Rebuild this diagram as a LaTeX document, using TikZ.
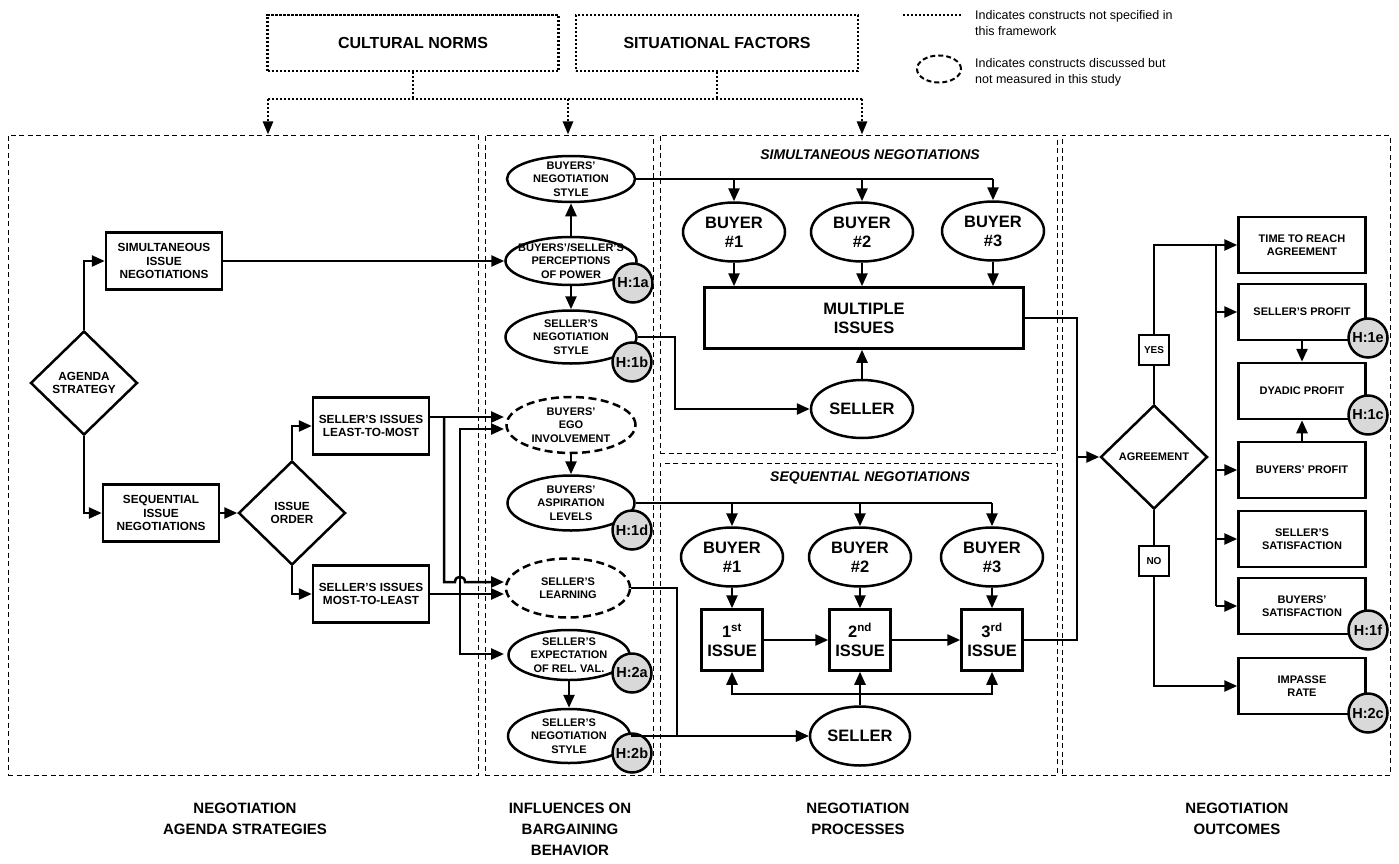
\documentclass[tikz,border=0pt]{standalone}
\usepackage{fontspec}
\setmainfont{Liberation Sans}
\usetikzlibrary{shapes.geometric,arrows.meta,calc}

\tikzset{
  wire/.style={line width=2.5pt},
  arr/.style={line width=2.5pt,-{Triangle[length=13pt,width=11pt]}},
  dotwire/.style={line width=2.4pt,dash pattern=on 2.2pt off 1.8pt},
  dotarr/.style={dotwire,-{Triangle[length=13pt,width=10pt]}},
  panel/.style={draw,line width=1pt,dash pattern=on 5pt off 3.5pt,rectangle,inner sep=0pt},
  factorbox/.style={draw,rectangle,dotwire,minimum height=56pt,font=\fontsize{16}{19}\selectfont\bfseries},
  stepbox/.style={draw,line width=2.5pt,rectangle,align=center,inner sep=1pt,minimum width=116pt,minimum height=57pt,font=\fontsize{11.8}{13.5}\selectfont\bfseries},
  outbox/.style={stepbox,minimum width=127pt,minimum height=56pt,font=\fontsize{11}{13.5}\selectfont\bfseries},
  issuebox/.style={stepbox,minimum width=61pt,minimum height=61pt,font=\fontsize{16.5}{19}\selectfont\bfseries},
  oval/.style={draw,line width=2.5pt,ellipse,align=center,inner xsep=-14pt,inner ysep=-8pt,font=\fontsize{11}{13.5}\selectfont\bfseries},
  dashoval/.style={oval,dash pattern=on 8pt off 4.5pt},
  bigoval/.style={oval,minimum width=102pt,minimum height=59pt,font=\fontsize{16.5}{19}\selectfont\bfseries},
  choice/.style={draw,line width=2.5pt,diamond,align=center,inner sep=0pt,minimum width=107pt,minimum height=104pt,font=\fontsize{11.8}{13.5}\selectfont\bfseries},
  hyp/.style={draw,line width=2.5pt,circle,fill=black!15,inner sep=0pt,minimum size=39pt,font=\fontsize{14.5}{14.5}\selectfont\bfseries},
  answer/.style={draw,line width=2.5pt,rectangle,inner sep=0pt,minimum size=30pt,font=\fontsize{10}{10}\selectfont\bfseries},
  subtitle/.style={font=\fontsize{14}{16}\selectfont\bfseries\itshape},
  labeltext/.style={align=center,anchor=north,inner sep=0pt,font=\fontsize{15}{21}\selectfont\bfseries},
  legendtext/.style={align=left,anchor=west,inner sep=0pt,font=\fontsize{12.5}{16}\selectfont},
}

\begin{document}
\begin{tikzpicture}[x=1pt,y=-1pt]
\useasboundingbox (0,0) rectangle (1399,864);

\node[factorbox,minimum width=291pt] (cult) at (413,43) {CULTURAL NORMS};
\node[factorbox,minimum width=282pt] (sit) at (717,43) {SITUATIONAL FACTORS};

\coordinate (legA) at (903,15);
\coordinate (legB) at (961,15);
\draw[dotwire] (legA) -- (legB);
\node[legendtext] (leg1) at (975,23) {Indicates constructs not specified in\\this framework};
\node[dashoval,line width=2pt,dash pattern=on 5pt off 3pt,minimum width=44pt,minimum height=27pt] (legoval) at (939,69) {};
\node[legendtext] (leg2) at (975,72) {Indicates constructs discussed but\\not measured in this study};

\node[panel,minimum width=470pt,minimum height=640pt] (pA) at (243,455) {};
\node[panel,minimum width=168pt,minimum height=640pt] (pB) at (569,455) {};
\node[panel,minimum width=397pt,minimum height=318pt] (pC1) at (858.5,294) {};
\node[panel,minimum width=397pt,minimum height=312pt] (pC2) at (858.5,619) {};
\node[panel,minimum width=328pt,minimum height=640pt] (pD) at (1226,455) {};

\coordinate (jL) at (268,99);
\coordinate (jM) at (568,99);
\coordinate (jR) at (862,99);
\draw[dotwire] (cult) -- (cult |- jL);
\draw[dotwire] (sit) -- (sit |- jL);
\draw[dotwire] (jL) -- (jR);
\draw[dotarr] (jL) -- (jL |- pA.north);
\draw[dotarr] (jM) -- (jM |- pB.north);
\draw[dotarr] (jR) -- (jR |- pC1.north);

\node[subtitle] (simtitle) at (870,155) {SIMULTANEOUS NEGOTIATIONS};
\node[subtitle] (seqtitle) at (870,478) {SEQUENTIAL NEGOTIATIONS};

\node[choice] (agenda) at (84,383) {AGENDA\\STRATEGY};
\node[stepbox] (simiss) at (164,261) {SIMULTANEOUS\\ISSUE\\NEGOTIATIONS};
\node[stepbox] (seqiss) at (161,513) {SEQUENTIAL\\ISSUE\\NEGOTIATIONS};
\node[choice] (order) at (292,513) {ISSUE\\ORDER};
\node[stepbox] (least) at (371,426) {SELLER'S ISSUES\\LEAST-TO-MOST};
\node[stepbox] (most) at (371,594) {SELLER'S ISSUES\\MOST-TO-LEAST};

\node[oval,minimum width=128pt,minimum height=46pt] (bstyle) at (571,179) {BUYERS'\\NEGOTIATION\\STYLE};
\node[oval,minimum width=131pt,minimum height=48pt] (power) at (571,261) {BUYERS'/SELLER'S\\PERCEPTIONS\\OF POWER};
\node[oval,minimum width=131pt,minimum height=53pt] (sstyle) at (571,337) {SELLER'S\\NEGOTIATION\\STYLE};
\node[dashoval,minimum width=129pt,minimum height=56pt] (ego) at (571,425) {BUYERS'\\EGO\\INVOLVEMENT};
\node[oval,minimum width=127pt,minimum height=55pt] (aspir) at (571,503) {BUYERS'\\ASPIRATION\\LEVELS};
\node[dashoval,minimum width=124pt,minimum height=59pt] (learn) at (568,588) {SELLER'S\\LEARNING};
\node[oval,minimum width=121pt,minimum height=50pt] (expect) at (569,655) {SELLER'S\\EXPECTATION\\OF REL. VAL.};
\node[oval,minimum width=122pt,minimum height=54pt] (sstyle2) at (569,736) {SELLER'S\\NEGOTIATION\\STYLE};

\node[hyp] (h1a) at (633,283) {H:1a};
\node[hyp] (h1b) at (632,362) {H:1b};
\node[hyp] (h1d) at (632,530) {H:1d};
\node[hyp] (h2a) at (632,673) {H:2a};
\node[hyp] (h2b) at (632,753) {H:2b};

\node[bigoval] (b1) at (734,232) {BUYER\\\#1};
\node[bigoval] (b2) at (862,232) {BUYER\\\#2};
\node[bigoval] (b3) at (993,231) {BUYER\\\#3};
\node[stepbox,minimum width=319pt,minimum height=61pt,font=\fontsize{16.5}{19}\selectfont\bfseries] (multi) at (864,318) {MULTIPLE\\ISSUES};
\node[bigoval,minimum height=58pt] (sel1) at (862,409) {SELLER};

\node[bigoval] (b4) at (732,557) {BUYER\\\#1};
\node[bigoval] (b5) at (860,557) {BUYER\\\#2};
\node[bigoval] (b6) at (992,557) {BUYER\\\#3};
\node[issuebox] (i1) at (732,640) {1\textsuperscript{st}\\ISSUE};
\node[issuebox] (i2) at (860,640) {2\textsuperscript{nd}\\ISSUE};
\node[issuebox] (i3) at (992,640) {3\textsuperscript{rd}\\ISSUE};
\node[bigoval,minimum width=100pt] (sel2) at (860,736) {SELLER};

\node[choice,font=\fontsize{11}{12}\selectfont\bfseries] (agree) at (1154,457) {AGREEMENT};
\node[answer] (yes) at (1154,350) {YES};
\node[answer] (no) at (1154,561) {NO};
\node[outbox] (time) at (1302,245) {TIME TO REACH\\AGREEMENT};
\node[outbox] (sprof) at (1302,312) {SELLER'S PROFIT};
\node[outbox] (dprof) at (1302,391) {DYADIC PROFIT};
\node[outbox] (bprof) at (1302,470) {BUYERS' PROFIT};
\node[outbox] (ssat) at (1302,539) {SELLER'S\\SATISFACTION};
\node[outbox] (bsat) at (1302,606) {BUYERS'\\SATISFACTION};
\node[outbox] (imp) at (1302,686) {IMPASSE\\RATE};
\node[hyp] (h1e) at (1368,338) {H:1e};
\node[hyp] (h1c) at (1368,415) {H:1c};
\node[hyp] (h1f) at (1368,630) {H:1f};
\node[hyp] (h2c) at (1368,713) {H:2c};

\node[labeltext] (capA) at (245,803) {NEGOTIATION\\AGENDA STRATEGIES};
\node[labeltext] (capB) at (570,803) {INFLUENCES ON\\BARGAINING\\BEHAVIOR};
\node[labeltext] (capC) at (858,803) {NEGOTIATION\\PROCESSES};
\node[labeltext] (capD) at (1237,803) {NEGOTIATION\\OUTCOMES};

\draw[arr] (agenda.north) |- (simiss);
\draw[arr] (agenda.south) |- (seqiss);
\draw[arr] (seqiss) -- (order);
\draw[arr] (order.north) |- (least);
\draw[arr] (order.south) |- (most);
\draw[arr] (simiss) -- (simiss -| power.west);

\coordinate (railA) at (444,0);
\coordinate (railB) at (460,0);
\coordinate (egoInA) at (504,417);
\coordinate (egoInB) at (504,429);
\coordinate (lrnInA) at (504,582);
\coordinate (lrnInB) at (504,594);
\coordinate (expIn) at (504,654);
\draw[arr] (least.east |- egoInA) -- (egoInA);
\draw[arr] (railA |- egoInA) -- (railA |- lrnInA) -- ($(railB |- lrnInA)+(-5,0)$) .. controls +(0,-7) and +(0,-7) .. ($(railB |- lrnInA)+(5,0)$) -- (lrnInA);
\draw[arr] (most.east |- lrnInB) -- (lrnInB);
\draw[arr] (railB |- lrnInB) -- (railB |- egoInB) -- (egoInB);
\draw[arr] (railB |- lrnInB) -- (railB |- expIn) -- (expIn);

\draw[arr] (power) -- (bstyle);
\draw[arr] (power) -- (sstyle);
\draw[arr] (ego) -- (aspir);
\draw[arr] (expect) -- (sstyle2);

\draw[wire] (bstyle) -- (bstyle -| b3);
\foreach \b in {b1,b2,b3} \draw[arr] (bstyle -| \b) -- (\b);
\foreach \b in {b1,b2,b3} \draw[arr] (\b) -- (\b |- multi.north);
\draw[arr] (sel1) -- (sel1 |- multi.south);
\coordinate (sbend) at (675,0);
\draw[arr] (sstyle) -| (sbend |- sel1) -- (sel1);

\draw[wire] (aspir) -- (aspir -| b6);
\foreach \b in {b4,b5,b6} \draw[arr] (aspir -| \b) -- (\b);
\draw[arr] (b4) -- (i1);
\draw[arr] (b5) -- (i2);
\draw[arr] (b6) -- (i3);
\draw[arr] (i1) -- (i2);
\draw[arr] (i2) -- (i3);
\coordinate (sbar) at (0,694);
\draw[arr] (sel2) -- (i2);
\draw[arr] (i2 |- sbar) -| (i1);
\draw[arr] (i2 |- sbar) -| (i3);
\coordinate (lbend) at (677,0);
\draw[arr] (learn) -| (lbend |- sel2) -- (sel2);
\draw[arr] (sstyle2) -- (sel2);

\coordinate (bus) at (1077,0);
\draw[wire] (multi) -| (bus |- i3) -- (i3);
\draw[arr] (bus |- agree) -- (agree);

\coordinate (outrail) at (1216,0);
\draw[wire] (agree) -- (yes);
\draw[arr] (yes) |- (time);
\draw[wire] (outrail |- time) -- (outrail |- bsat);
\foreach \o in {sprof,bprof,ssat,bsat} \draw[arr] (outrail |- \o) -- (\o);
\draw[arr] (sprof) -- (dprof);
\draw[arr] (bprof) -- (dprof);
\draw[wire] (agree) -- (no);
\draw[arr] (no) |- (imp);
\end{tikzpicture}
\end{document}
